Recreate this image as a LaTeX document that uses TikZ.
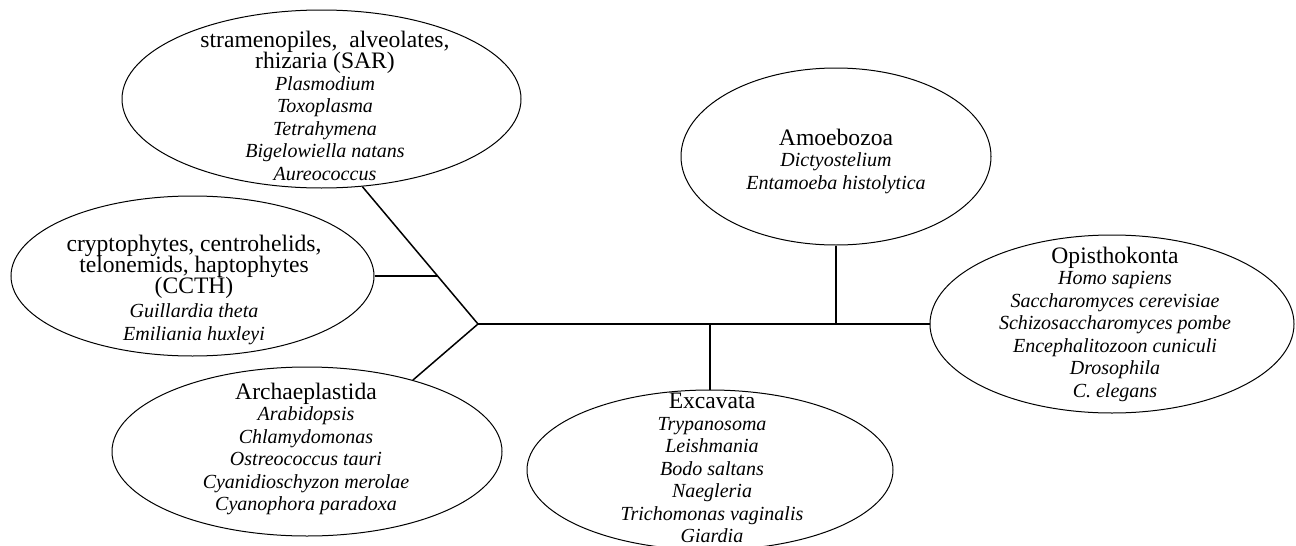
\documentclass[tikz,border=0pt]{standalone}
\usepackage{fontspec}
\setmainfont{Liberation Serif}
\usetikzlibrary{shapes.geometric,calc}
\newcommand{\memberfont}{\fontsize{10}{11.25}\selectfont\itshape\lineskiplimit=-20pt\relax}
\newcommand{\grp}[1]{{\upshape\fontsize{11.8}{11.25}\selectfont #1}}
\tikzset{
  clade/.style={draw, ellipse, line width=0.5pt, inner sep=0pt},
  members/.style={align=center, inner sep=0pt, font=\memberfont},
  branch/.style={line width=0.75pt}
}

\begin{document}
\begin{tikzpicture}[x=0.5pt,y=-0.5pt]
    \clip (0,0) rectangle (1296,546);

    % Clades (outlines)
    \node[clade,minimum width=199.5pt,minimum height=89pt] (sar) at (321.5,99) {};
    \node[clade,minimum width=181.5pt,minimum height=80pt] (ccth) at (192.5,276) {};
    \node[clade,minimum width=195pt,minimum height=84.5pt] (arch) at (307,451.5) {};
    \node[clade,minimum width=183pt,minimum height=80pt] (exc) at (710,470) {};
    \node[clade,minimum width=155pt,minimum height=88.5pt] (amoe) at (836,156.5) {};
    \node[clade,minimum width=182pt,minimum height=89pt] (opis) at (1112,324) {};

    % Clade names and members
    \node[members] (sar-txt) at (325,106) {\grp{stramenopiles,\ \ alveolates,}\\[-0.75pt]
      \grp{rhizaria (SAR)}\\[-0.5pt] Plasmodium\\ Toxoplasma\\ Tetrahymena\\
      Bigelowiella natans\\ Aureococcus};
    \node[members] (ccth-txt) at (194,290) {\grp{cryptophytes, centrohelids,}\\[-0.75pt]
      \grp{telonemids, haptophytes}\\[-0.75pt] \grp{(CCTH)}\\[0.75pt]
      Guillardia theta\\ Emiliania huxleyi};
    \node[members] (arch-txt) at (306,449) {\grp{Archaeplastida}\\[-0.5pt] Arabidopsis\\
      Chlamydomonas\\ Ostreococcus tauri\\ Cyanidioschyzon merolae\\ Cyanophora paradoxa};
    \node[members] (exc-txt) at (712,468) {\grp{Excavata}\\[-0.5pt] Trypanosoma\\ Leishmania\\
      Bodo saltans\\ Naegleria\\ Trichomonas vaginalis\\ Giardia};
    \node[members] (amoe-txt) at (836,161) {\grp{Amoebozoa}\\[-0.5pt] Dictyostelium\\
      Entamoeba histolytica};
    \node[members] (opis-txt) at (1115,324) {\grp{Opisthokonta}\\[-0.5pt] Homo sapiens\\
      Saccharomyces cerevisiae\\ Schizosaccharomyces pombe\\ Encephalitozoon cuniculi\\
      Drosophila\\ C. elegans};

    % Tree
    \coordinate (root) at (478,324);
    \coordinate (k) at ($(sar.-65)!0.65!(root)$);
    \draw[branch] (sar.-65) -- (root);
    \draw[branch] (ccth.east) -- (ccth.east -| k);
    \draw[branch] (arch.34) -- (root);
    \draw[branch] (root) -- (opis.west);
    \draw[branch] (amoe.south) -- (amoe.south |- root);
    \draw[branch] (exc.north) -- (exc.north |- root);
\end{tikzpicture}
\end{document}
